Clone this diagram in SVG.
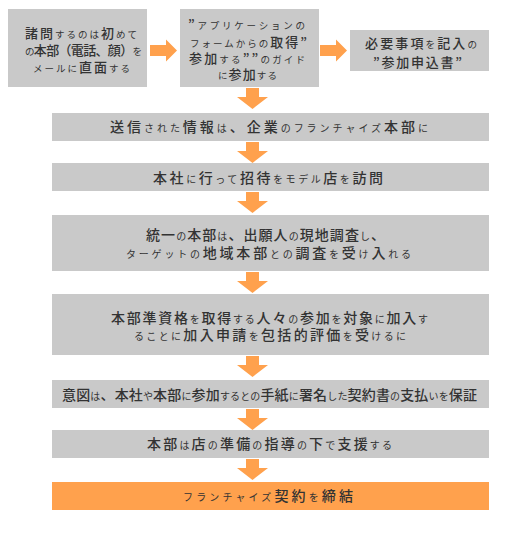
<svg xmlns="http://www.w3.org/2000/svg" width="512" height="539" viewBox="0 0 512 539">
<style>
.box{fill:#c9c9c9}
.fin{fill:#ffa14d}
.arr{fill:#ffa14d}
text{font-family:"Noto Sans CJK JP","Noto Sans",sans-serif;fill:#333;font-size:10px}
.s text{font-size:9.5px}
.j{font-size:14px;font-weight:500}
.s .j{font-size:13px}
</style>
<defs>
<path id="down" d="M-6.5 0H6.5V9H15.5L0 21L-15.5 9H-6.5Z"/>
<path id="right" d="M0 -5.5H16V-11L27 0L16 11V5.5H0Z"/>
</defs>
<rect width="512" height="539" fill="#fff"/>
<g id="connectors" class="arr">
<use href="#right" x="150" y="50.5"/>
<use href="#right" x="320" y="50.5"/>
<use href="#down" x="252.5" y="88"/>
<use href="#down" x="252.5" y="142"/>
<use href="#down" x="252.5" y="192"/>
<use href="#down" x="252.5" y="272"/>
<use href="#down" x="252.5" y="356"/>
<use href="#down" x="252.5" y="409"/>
<use href="#down" x="252.5" y="459"/>
</g>
<g id="n1" class="s">
<rect class="box" x="8" y="9" width="139" height="78"/>
<text x="25" y="38" textLength="112" lengthAdjust="spacing"><tspan class="j">諸問</tspan>するのは<tspan class="j">初</tspan>めて</text>
<text x="25" y="55" textLength="117" lengthAdjust="spacing">の<tspan class="j">本部（電話、顔）</tspan>を</text>
<text x="33" y="72" textLength="97" lengthAdjust="spacing">メールに<tspan class="j">直面</tspan>する</text>
</g>
<g id="n2" class="s">
<rect class="box" x="180" y="9" width="139" height="78"/>
<text x="188" y="29" textLength="117" lengthAdjust="spacing"><tspan class="j">”</tspan>アプリケーションの</text>
<text x="190" y="47" textLength="117" lengthAdjust="spacing">フォームからの<tspan class="j">取得”</tspan></text>
<text x="189" y="63" textLength="116" lengthAdjust="spacing"><tspan class="j">参加</tspan>する<tspan class="j">””</tspan>のガイド</text>
<text x="218" y="79" textLength="59" lengthAdjust="spacing">に<tspan class="j">参加</tspan>する</text>
</g>
<g id="n3" class="s">
<rect class="box" x="350" y="30" width="139" height="41"/>
<text x="365" y="48" textLength="112" lengthAdjust="spacing"><tspan class="j">必要事項</tspan>を<tspan class="j">記入</tspan>の</text>
<text x="373" y="67" textLength="89" lengthAdjust="spacing"><tspan class="j">”参加申込書”</tspan></text>
</g>
<g id="n4">
<rect class="box" x="52" y="113" width="437" height="28"/>
<text x="110" y="132" textLength="318" lengthAdjust="spacing"><tspan class="j">送信</tspan>された<tspan class="j">情報</tspan>は<tspan class="j">、企業</tspan>のフランチャイズ<tspan class="j">本部</tspan>に</text>
</g>
<g id="n5">
<rect class="box" x="52" y="163" width="437" height="28"/>
<text x="153" y="183" textLength="230" lengthAdjust="spacing"><tspan class="j">本社</tspan>に<tspan class="j">行</tspan>って<tspan class="j">招待</tspan>をモデル<tspan class="j">店</tspan>を<tspan class="j">訪問</tspan></text>
</g>
<g id="n6">
<rect class="box" x="52" y="215" width="437" height="56"/>
<text x="146" y="240" textLength="239" lengthAdjust="spacing"><tspan class="j">統一</tspan>の<tspan class="j">本部</tspan>は<tspan class="j">、出願人</tspan>の<tspan class="j">現地調査</tspan>し<tspan class="j">、</tspan></text>
<text x="126" y="258" textLength="285" lengthAdjust="spacing">ターゲットの<tspan class="j">地域本部</tspan>との<tspan class="j">調査</tspan>を<tspan class="j">受</tspan>け<tspan class="j">入</tspan>れる</text>
</g>
<g id="n7">
<rect class="box" x="52" y="294" width="437" height="61"/>
<text x="111" y="323" textLength="317" lengthAdjust="spacing"><tspan class="j">本部準資格</tspan>を<tspan class="j">取得</tspan>する<tspan class="j">人々</tspan>の<tspan class="j">参加</tspan>を<tspan class="j">対象</tspan>に<tspan class="j">加入</tspan>す</text>
<text x="134" y="340" textLength="272" lengthAdjust="spacing">ることに<tspan class="j">加入申請</tspan>を<tspan class="j">包括的評価</tspan>を<tspan class="j">受</tspan>けるに</text>
</g>
<g id="n8">
<rect class="box" x="52" y="380" width="437" height="28"/>
<text x="62" y="400" textLength="415" lengthAdjust="spacing"><tspan class="j">意図</tspan>は<tspan class="j">、本社</tspan>や<tspan class="j">本部</tspan>に<tspan class="j">参加</tspan>するとの<tspan class="j">手紙</tspan>に<tspan class="j">署名</tspan>した<tspan class="j">契約書</tspan>の<tspan class="j">支払</tspan>いを<tspan class="j">保証</tspan></text>
</g>
<g id="n9">
<rect class="box" x="52" y="430" width="437" height="28"/>
<text x="147" y="449" textLength="245" lengthAdjust="spacing"><tspan class="j">本部</tspan>は<tspan class="j">店</tspan>の<tspan class="j">準備</tspan>の<tspan class="j">指導</tspan>の<tspan class="j">下</tspan>で<tspan class="j">支援</tspan>する</text>
</g>
<g id="n10">
<rect class="fin" x="52" y="482" width="437" height="28"/>
<text x="183" y="501" textLength="170" lengthAdjust="spacing">フランチャイズ<tspan class="j">契約</tspan>を<tspan class="j">締結</tspan></text>
</g>
</svg>
